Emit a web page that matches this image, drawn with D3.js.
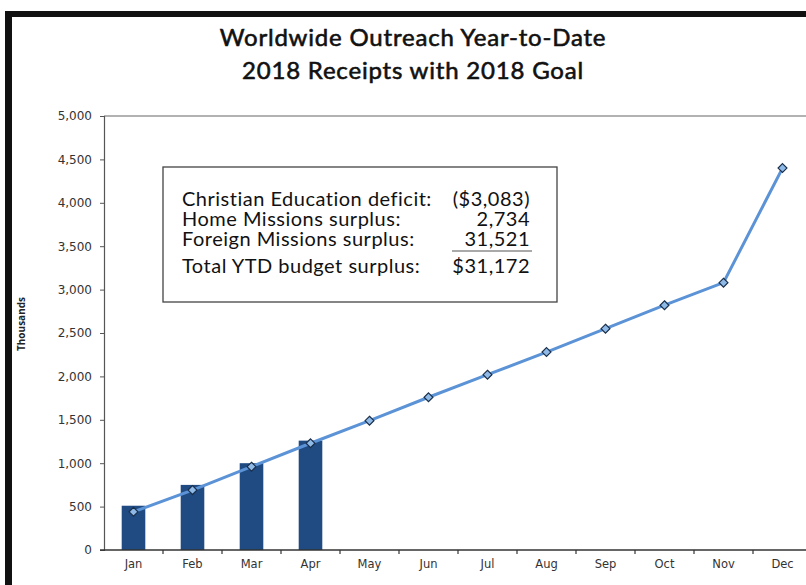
<!DOCTYPE html>
<html>
<head>
<meta charset="utf-8">
<script src="https://cdn.jsdelivr.net/npm/d3@7"></script>
<style>
body { margin: 0; background: #fff; }
svg { display: block; }
</style>
</head>
<body>
<script>
var months = ['Jan','Feb','Mar','Apr','May','Jun','Jul','Aug','Sep','Oct','Nov','Dec'];
var receipts = [510, 750, 1000, 1260];
var goal = [440, 690, 960, 1230, 1490, 1760, 2020, 2280, 2550, 2820, 3080, 4400];
var yTicks = [0, 500, 1000, 1500, 2000, 2500, 3000, 3500, 4000, 4500, 5000];
var boxLabels = ['Christian Education deficit:', 'Home Missions surplus:', 'Foreign Missions surplus:', 'Total YTD budget surplus:'];
var boxValues = ['($3,083)', '2,734', '31,521', '$31,172'];

var W = 806, H = 585;
var mLeft = 104, mRight = 812, mTop = 116, mBottom = 550;

var svg = d3.select('body').append('svg').attr('width', W).attr('height', H);

// frame
svg.append('rect').attr('x', 5).attr('y', 11).attr('width', W - 5).attr('height', 6).attr('fill', '#111');
svg.append('rect').attr('x', 5).attr('y', 11).attr('width', 7).attr('height', H - 11).attr('fill', '#111');

var x = d3.scaleBand().domain(months).range([mLeft, mRight]).paddingInner(0.6).paddingOuter(0.3);
var xb = d3.scaleBand().domain(months).range([mLeft, mRight]);
var y = d3.scaleLinear().domain([0, 5000]).range([mBottom, mTop]);

// title
var titles = ['Worldwide Outreach Year-to-Date', '2018 Receipts with 2018 Goal'];
svg.selectAll('text.title').data(titles).enter().append('text').attr('class', 'title')
  .attr('x', 413).attr('y', function (d, i) { return 46 + i * 33; }).attr('text-anchor', 'middle')
  .attr('font-family', 'Lato').attr('font-size', 24).attr('letter-spacing', 0.8)
  .attr('fill', '#111').attr('stroke', '#111').attr('stroke-width', 0.6)
  .text(function (d) { return d; });

// plot top border
svg.append('line').attr('x1', mLeft).attr('x2', W).attr('y1', mTop).attr('y2', mTop).attr('stroke', '#666').attr('stroke-width', 1.2);

// y axis
var yAxis = d3.axisLeft(y).tickValues(yTicks).tickSize(4).tickPadding(8).tickFormat(d3.format(','));
var gy = svg.append('g').attr('transform', 'translate(' + mLeft + ',0)').call(yAxis);
gy.select('.domain').attr('stroke', '#555').attr('stroke-width', 1.2);
gy.selectAll('.tick line').attr('stroke', '#555');
gy.selectAll('text').attr('font-family', 'DejaVu Sans').attr('font-size', 12).attr('fill', '#333');

svg.append('text').attr('transform', 'translate(25,324) rotate(-90)').attr('text-anchor', 'middle')
  .attr('font-family', 'Open Sans').attr('font-weight', 'bold').attr('font-size', 10).attr('fill', '#222')
  .text('Thousands');

// bars
svg.selectAll('rect.bar').data(receipts).enter().append('rect').attr('class', 'bar')
  .attr('x', function (d, i) { return x(months[i]); })
  .attr('y', function (d) { return y(d); })
  .attr('width', x.bandwidth())
  .attr('height', function (d) { return mBottom - y(d); })
  .attr('fill', '#1f4a82');

// x axis
var xAxis = d3.axisBottom(xb).tickSize(0).tickPadding(10);
var gx = svg.append('g').attr('transform', 'translate(0,' + mBottom + ')').call(xAxis);
gx.select('.domain').remove();
gx.selectAll('text').attr('font-family', 'DejaVu Sans').attr('font-size', 11.5).attr('fill', '#333');
svg.append('line').attr('x1', mLeft - 4).attr('x2', W).attr('y1', mBottom).attr('y2', mBottom).attr('stroke', '#333').attr('stroke-width', 1.5);
svg.selectAll('line.xt').data(months.slice(1)).enter().append('line').attr('class', 'xt')
  .attr('x1', function (d) { return xb(d); }).attr('x2', function (d) { return xb(d); })
  .attr('y1', mBottom).attr('y2', mBottom + 4).attr('stroke', '#333').attr('stroke-width', 1.2);

// goal line
var line = d3.line().x(function (d, i) { return xb(months[i]) + xb.bandwidth() / 2; }).y(function (d) { return y(d); });
svg.append('path').attr('d', line(goal)).attr('fill', 'none').attr('stroke', '#5b93d6').attr('stroke-width', 3);
svg.selectAll('path.mk').data(goal).enter().append('path').attr('class', 'mk')
  .attr('d', d3.symbol().type(d3.symbolDiamond2).size(50))
  .attr('transform', function (d, i) { return 'translate(' + (xb(months[i]) + xb.bandwidth() / 2) + ',' + y(d) + ')'; })
  .attr('fill', '#8fb9e6').attr('stroke', '#1a2f4a').attr('stroke-width', 1.2);

// text box
var box = svg.append('g');
box.append('rect').attr('x', 163).attr('y', 167).attr('width', 394).attr('height', 135)
  .attr('fill', '#fff').attr('stroke', '#444').attr('stroke-width', 1.3);
var rows = [206, 226, 246, 273];
box.selectAll('text.lab').data(boxLabels).enter().append('text').attr('class', 'lab')
  .attr('x', 182).attr('y', function (d, i) { return rows[i]; })
  .attr('font-family', 'Lato').attr('font-size', 20).attr('letter-spacing', 0.5).attr('fill', '#111').text(function (d) { return d; });
box.selectAll('text.val').data(boxValues).enter().append('text').attr('class', 'val')
  .attr('x', 530).attr('y', function (d, i) { return rows[i]; }).attr('text-anchor', 'end')
  .attr('font-family', 'Lato').attr('font-size', 20).attr('letter-spacing', 0.5).attr('fill', '#111').text(function (d) { return d; });
box.append('line').attr('x1', 452).attr('x2', 532).attr('y1', 251).attr('y2', 251).attr('stroke', '#555').attr('stroke-width', 1.2);
</script>
</body>
</html>
